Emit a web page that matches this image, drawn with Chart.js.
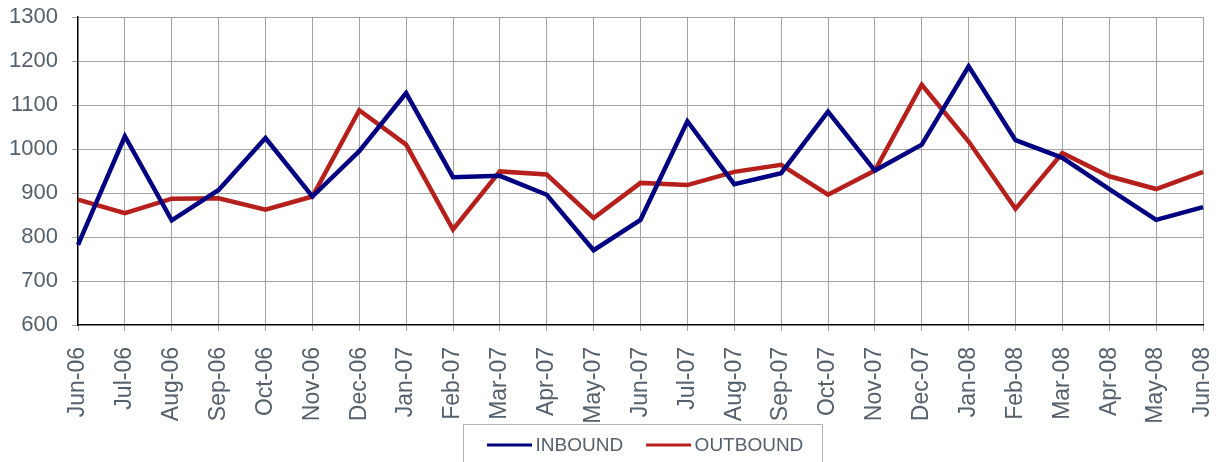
<!DOCTYPE html>
<html>
<head>
<meta charset="utf-8">
<script src="https://cdn.jsdelivr.net/npm/chart.js@4"></script>
<style>
html,body{margin:0;padding:0;background:#fff;}
#wrap{width:1218px;height:462px;position:relative;}
</style>
</head>
<body>
<div id="wrap"><canvas id="c" width="1218" height="462"></canvas></div>
<script>
const categories = ["Jun-06","Jul-06","Aug-06","Sep-06","Oct-06","Nov-06","Dec-06","Jan-07","Feb-07","Mar-07","Apr-07","May-07","Jun-07","Jul-07","Aug-07","Sep-07","Oct-07","Nov-07","Dec-07","Jan-08","Feb-08","Mar-08","Apr-08","May-08","Jun-08"];
const inbound = [782,1029,838,907,1025,892,995,1127,936,939,896,770,839,1063,920,945,1085,951,1010,1188,1020,980,909,839,868];
const outbound = [885,854,887,888,862,892,1088,1010,817,949,942,843,923,918,948,964,896,951,1146,1017,864,991,938,909,948];
const seriesNames = ["INBOUND","OUTBOUND"];
const yMin = 600, yMax = 1300, yStep = 100;

const textColor = '#56606b';
const gridColor = '#a3a3a3';
const fontFamily = '"Liberation Sans", Arial, sans-serif';

const legendPlugin = {
  id: 'boxLegend',
  afterDraw(chart) {
    const ctx = chart.ctx;
    ctx.save();
    ctx.strokeStyle = '#b4b4b4';
    ctx.lineWidth = 1;
    ctx.strokeRect(463.5, 424.5, 359, 50);
    ctx.font = '19px ' + fontFamily;
    ctx.textBaseline = 'middle';
    ctx.fillStyle = textColor;
    let x = 487;
    const y = 445;
    chart.data.datasets.forEach((ds) => {
      ctx.strokeStyle = ds.borderColor;
      ctx.lineWidth = 3;
      ctx.beginPath();
      ctx.moveTo(x, y);
      ctx.lineTo(x + 45, y);
      ctx.stroke();
      ctx.fillText(ds.label, x + 48.5, y + 1);
      x += 48.5 + ctx.measureText(ds.label).width + 23;
    });
    ctx.restore();
  }
};

new Chart(document.getElementById('c'), {
  type: 'line',
  data: {
    labels: categories,
    datasets: [
      {label: seriesNames[0], data: inbound, borderColor: '#000080', backgroundColor: '#000080', borderWidth: 4.5, pointRadius: 0, tension: 0, fill: false},
      {label: seriesNames[1], data: outbound, borderColor: '#b5201c', backgroundColor: '#b5201c', borderWidth: 4.5, pointRadius: 0, tension: 0, fill: false}
    ]
  },
  options: {
    responsive: false,
    animation: false,
    devicePixelRatio: 1,
    layout: {padding: {top: 17, right: 15, bottom: 37, left: 0}},
    plugins: {legend: {display: false}, tooltip: {enabled: false}},
    scales: {
      x: {
        offset: false,
        afterFit(scale) { scale.height = 100; scale.paddingRight = 0; scale.paddingLeft = 0; },
        grid: {
          color: (c) => c.index === 0 ? 'rgba(0,0,0,0)' : gridColor,
          tickLength: 6,
          tickColor: gridColor,
          lineWidth: 1
        },
        border: {display: true, color: '#000', width: 1.5},
        ticks: {
          color: textColor,
          font: {family: fontFamily, size: 23},
          maxRotation: 90, minRotation: 90,
          padding: 16,
          autoSkip: false
        }
      },
      y: {
        min: yMin, max: yMax,
        afterFit(scale) { scale.width = 78; scale.paddingTop = 0; scale.paddingBottom = 0; },
        grid: {
          color: (c) => c.tick && c.tick.value === yMin ? 'rgba(0,0,0,0)' : gridColor,
          tickLength: 6,
          tickColor: gridColor,
          lineWidth: 1
        },
        border: {display: true, color: '#000', width: 1.5},
        ticks: {
          stepSize: yStep,
          color: textColor,
          font: {family: fontFamily, size: 22},
          padding: 14,
          callback: (v) => String(v)
        }
      }
    }
  },
  plugins: [legendPlugin]
});
</script>
</body>
</html>
